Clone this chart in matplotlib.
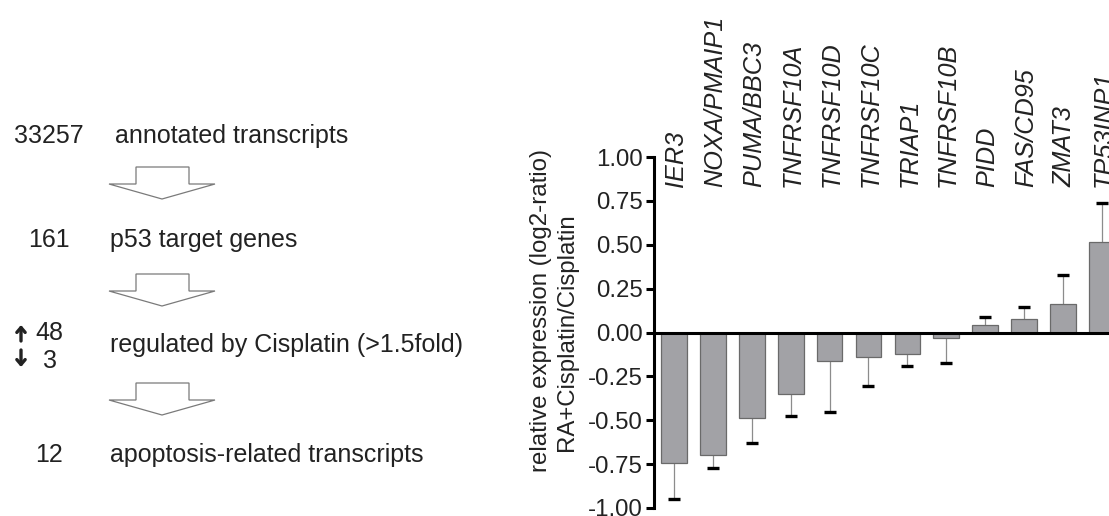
import matplotlib
matplotlib.use('Agg')
from matplotlib import pyplot as plt
from matplotlib.patches import Polygon
import numpy as np

plt.rcParams['font.family'] = ['Liberation Sans', 'DejaVu Sans']

# Filtering steps (count, description)
step_counts = ['33257', '161', None, '12']
step_labels = ['annotated transcripts', 'p53 target genes',
               'regulated by Cisplatin (>1.5fold)', 'apoptosis-related transcripts']
n_up = '48'
n_down = '3'

# log2 ratio RA+Cisplatin vs Cisplatin, with SD
genes = ['IER3', 'NOXA/PMAIP1', 'PUMA/BBC3', 'TNFRSF10A', 'TNFRSF10D', 'TNFRSF10C',
         'TRIAP1', 'TNFRSF10B', 'PIDD', 'FAS/CD95', 'ZMAT3', 'TP53INP1']
log2_ratio = [-0.745, -0.70, -0.49, -0.35, -0.16, -0.14,
              -0.125, -0.033, 0.042, 0.077, 0.161, 0.513]
sd = [0.203, 0.073, 0.137, 0.125, 0.292, 0.166,
      0.065, 0.14, 0.046, 0.069, 0.164, 0.227]
yticks = [-1.0, -0.75, -0.5, -0.25, 0.0, 0.25, 0.5, 0.75, 1.0]

W, H = 1109, 516
fig = plt.figure(figsize=(W / 100, H / 100), dpi=100)

# flow diagram on the left, drawn in pixel units
ax0 = fig.add_axes([0, 0, 1, 1])
ax0.set_xlim(0, W)
ax0.set_ylim(H, 0)
ax0.axis('off')

txt = '#222222'
fs = 18
rows_y = [143, 247, 352, 462]
for i, (cnt, lab) in enumerate(zip(step_counts, step_labels)):
    if cnt is not None:
        ax0.text(49, rows_y[i], cnt, ha='center', va='baseline', fontsize=fs, color=txt)
    ax0.text(115 if i == 0 else 110, rows_y[i], lab, ha='left', va='baseline',
             fontsize=fs, color=txt)

ax0.text(49, 340, n_up, ha='center', va='baseline', fontsize=fs, color=txt)
ax0.text(50, 368, n_down, ha='center', va='baseline', fontsize=fs, color=txt)

# up / down arrows next to the counts
arr = dict(arrowstyle='->, head_length=0.35, head_width=0.3', color=txt,
           lw=2.4, shrinkA=0, shrinkB=0)
ax0.annotate('', xy=(21, 325), xytext=(21, 341), arrowprops=arr)
ax0.annotate('', xy=(21, 367), xytext=(21, 350), arrowprops=arr)

# hollow block arrows between the steps
for top in [167, 274, 383]:
    pts = [(136, top), (189, top), (189, top + 17), (215, top + 17),
           (162, top + 32), (109, top + 17), (136, top + 17)]
    ax0.add_patch(Polygon(pts, closed=True, facecolor='white',
                          edgecolor='#7a7a7a', linewidth=0.9))

# y-axis title, two lines
ax0.text(541, 310, 'relative expression (log2-ratio)', rotation=90,
         ha='center', va='center', fontsize=17.3, color=txt)
ax0.text(567, 332, 'RA+Cisplatin/Cisplatin', rotation=90,
         ha='center', va='center', fontsize=17.3, color=txt)

# bar chart
ax = fig.add_axes([654 / W, 8 / H, 1 - 654 / W, (508 - 157) / H])
ax.patch.set_alpha(0)
x = np.arange(len(genes))
vals = np.array(log2_ratio)
err = np.array(sd)
ends = np.where(vals < 0, vals - err, vals + err)

ax.bar(x, vals, width=0.66, color='#a2a2a6', edgecolor='#6a6a6a',
       linewidth=0.9, zorder=2)
# one-sided SD: grey stem, black cap at the outer end only
ax.vlines(x, vals, ends, color='#8c8c8c', linewidth=0.9, zorder=1)
ax.plot(x, ends, ls='none', marker='_', ms=9.2, mew=2.4, color='black', zorder=3)

ax.axhline(0, color='black', linewidth=2.2, zorder=3)

ax.set_xlim(-0.52, 11.19)
ax.set_ylim(-1.0, 1.0)
ax.set_yticks(yticks)
ax.set_yticklabels(['%.2f' % t for t in yticks])
ax.tick_params(axis='y', length=6, width=2.2, labelsize=17.3, pad=2, colors='black',
               labelcolor=txt)
ax.set_xticks([])
for s in ['top', 'right', 'bottom']:
    ax.spines[s].set_visible(False)
ax.spines['left'].set_linewidth(2.2)

for xi, g in zip(x, genes):
    ax.text(xi + 0.05, 0.83, g, rotation=90, ha='center', va='bottom',
            fontsize=18.2, style='italic', color=txt, clip_on=False)

fig.savefig('out.png', dpi=100)
